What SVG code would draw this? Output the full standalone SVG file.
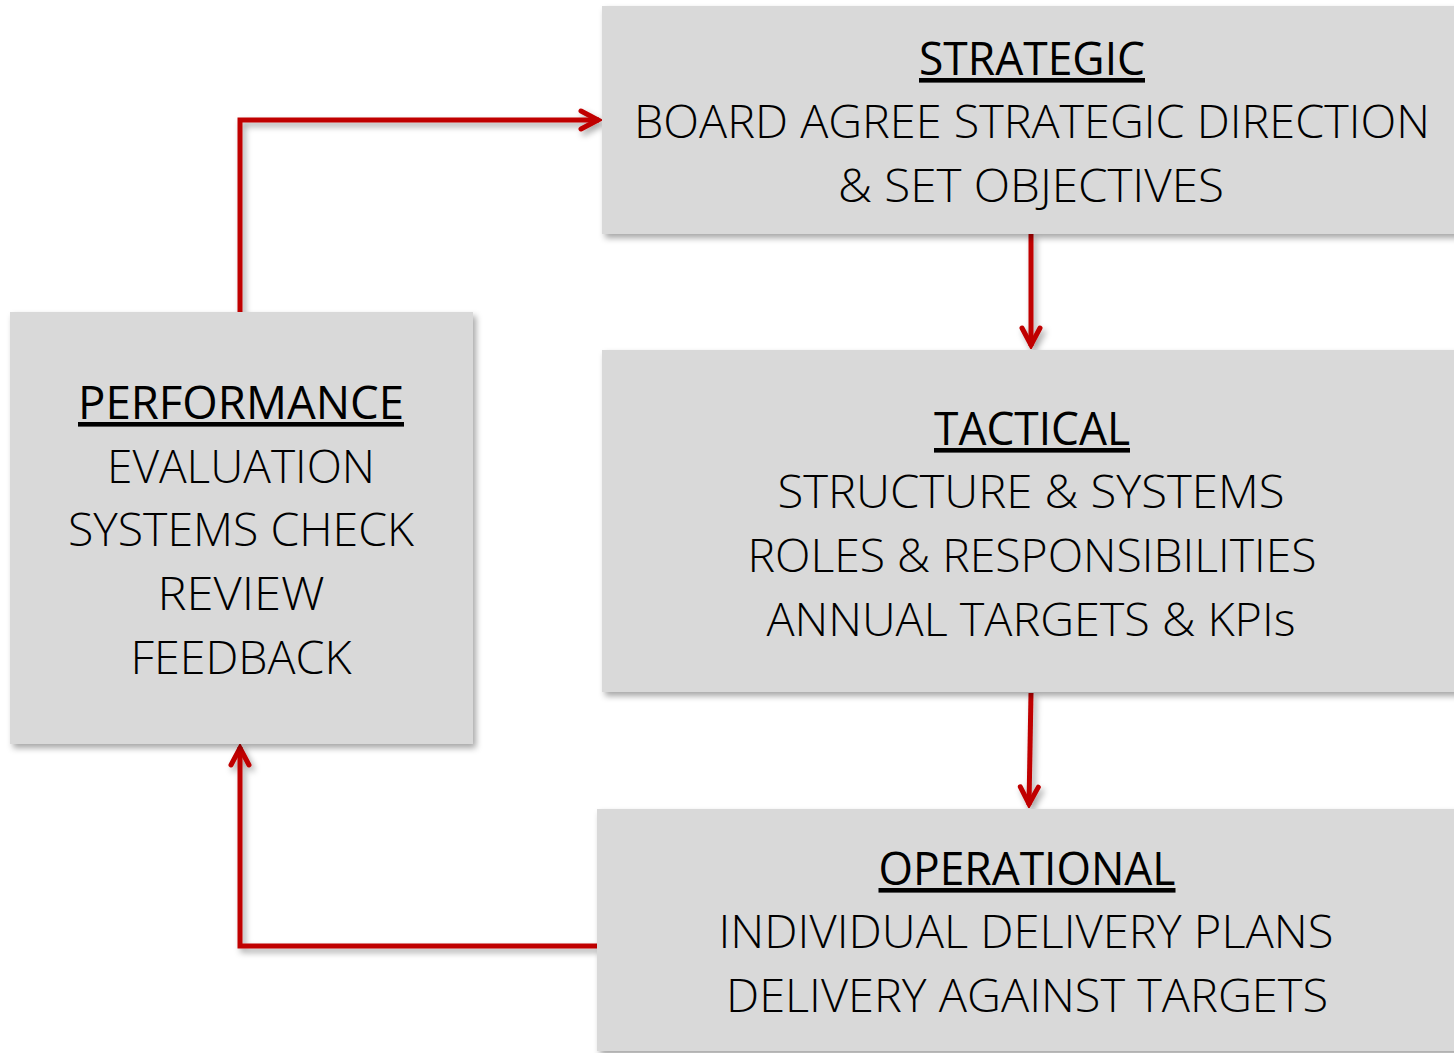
<svg xmlns="http://www.w3.org/2000/svg" width="1454" height="1053" viewBox="0 0 1454 1053">
<style>
.box{fill:#D9D9D9;filter:url(#sh)}
.t{font-family:"Open Sans","Liberation Sans",sans-serif;font-size:46px;fill:#000;text-anchor:middle;font-weight:300}
.h{font-weight:400;text-decoration:underline}
.c{fill:none;stroke:#C00000;stroke-width:5;stroke-linejoin:miter}
</style>
<defs>
<filter id="sh" x="-10%" y="-10%" width="130%" height="130%">
<feDropShadow dx="3" dy="4" stdDeviation="3" flood-color="#000" flood-opacity="0.35"/>
</filter>
<marker id="ah" viewBox="0 0 12 12" refX="10" refY="6" markerWidth="12" markerHeight="12" markerUnits="userSpaceOnUse" orient="auto">
<path d="M1,1 L10,6 L1,11" fill="none" stroke="#C00000" stroke-width="2.2" stroke-linecap="round" stroke-linejoin="miter"/>
</marker>
<marker id="a" viewBox="0 0 24 24" refX="21" refY="12" markerWidth="24" markerHeight="24" markerUnits="userSpaceOnUse" orient="auto">
<path d="M3,3 L20,12 L3,21" fill="none" stroke="#C00000" stroke-width="5" stroke-linecap="round"/>
</marker>
</defs>
<g id="connectors" filter="url(#sh)">
<path class="c" d="M240,312 L240,120 L599,120" marker-end="url(#a)"/>
<path class="c" d="M1031,234 L1031,346" marker-end="url(#a)"/>
<path class="c" d="M1031,693 L1029,805" marker-end="url(#a)"/>
<path class="c" d="M597,946 L240,946 L240,747" marker-end="url(#a)"/>
</g>
<g id="strategic">
<rect class="box" x="602" y="6" width="860" height="228"/>
<text class="t h" x="1032" y="75" textLength="226" lengthAdjust="spacingAndGlyphs">STRATEGIC</text>
<text class="t" x="1032" y="138" textLength="796" lengthAdjust="spacingAndGlyphs">BOARD AGREE STRATEGIC DIRECTION</text>
<text class="t" x="1031" y="202" textLength="386" lengthAdjust="spacingAndGlyphs">&amp; SET OBJECTIVES</text>
</g>
<g id="tactical">
<rect class="box" x="602" y="350" width="860" height="342"/>
<text class="t h" x="1032" y="445" textLength="196" lengthAdjust="spacingAndGlyphs">TACTICAL</text>
<text class="t" x="1031" y="508" textLength="507" lengthAdjust="spacingAndGlyphs">STRUCTURE &amp; SYSTEMS</text>
<text class="t" x="1032" y="572" textLength="569" lengthAdjust="spacingAndGlyphs">ROLES &amp; RESPONSIBILITIES</text>
<text class="t" x="1031" y="636" textLength="529" lengthAdjust="spacingAndGlyphs">ANNUAL TARGETS &amp; KPIs</text>
</g>
<g id="operational">
<rect class="box" x="597" y="809" width="865" height="242"/>
<text class="t h" x="1027" y="885" textLength="297" lengthAdjust="spacingAndGlyphs">OPERATIONAL</text>
<text class="t" x="1026" y="948" textLength="615" lengthAdjust="spacingAndGlyphs">INDIVIDUAL DELIVERY PLANS</text>
<text class="t" x="1027" y="1012" textLength="602" lengthAdjust="spacingAndGlyphs">DELIVERY AGAINST TARGETS</text>
</g>
<g id="performance">
<rect class="box" x="10" y="312" width="463" height="432"/>
<text class="t h" x="241" y="419" textLength="326" lengthAdjust="spacingAndGlyphs">PERFORMANCE</text>
<text class="t" x="241" y="483" textLength="268" lengthAdjust="spacingAndGlyphs">EVALUATION</text>
<text class="t" x="241" y="546" textLength="346" lengthAdjust="spacingAndGlyphs">SYSTEMS CHECK</text>
<text class="t" x="241" y="610" textLength="167" lengthAdjust="spacingAndGlyphs">REVIEW</text>
<text class="t" x="241" y="674" textLength="221" lengthAdjust="spacingAndGlyphs">FEEDBACK</text>
</g>
</svg>
